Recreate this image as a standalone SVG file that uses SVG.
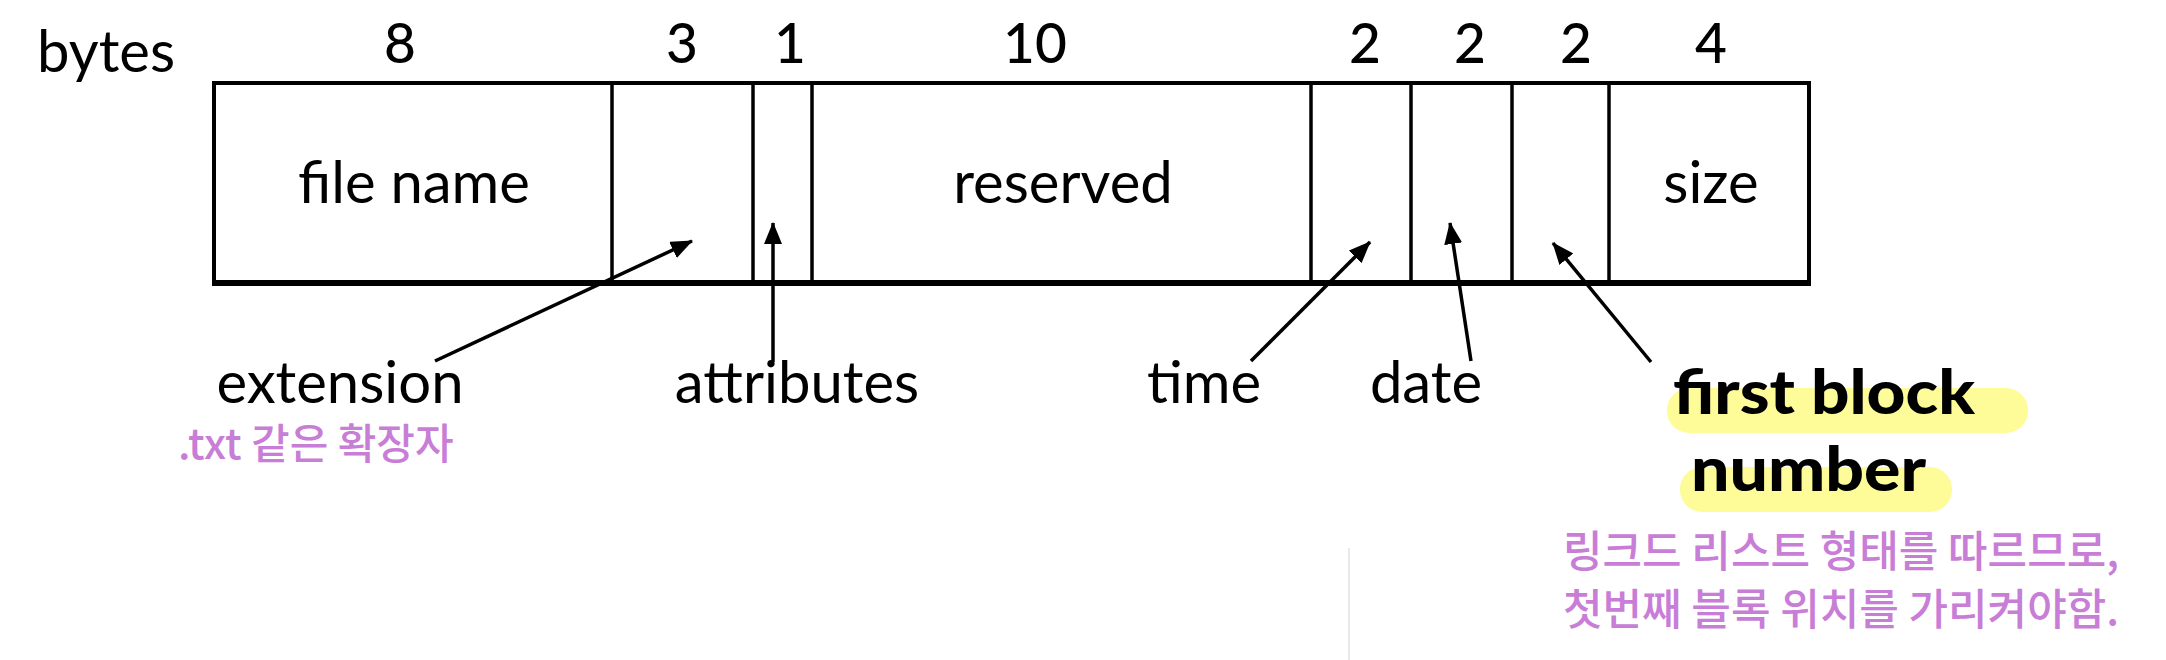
<svg xmlns="http://www.w3.org/2000/svg" width="2166" height="660" viewBox="0 0 2166 660">
<style>
.t{font-family:Lato,"Liberation Sans","Noto Sans CJK KR",sans-serif;fill:#000}
.n{font-size:55px;text-anchor:middle;font-weight:500}
.lbl{font-size:58px}
.c{text-anchor:middle}
.b{font-weight:900;font-size:60px}
.k{font-family:"Noto Sans CJK KR",sans-serif;fill:#c87ed6;font-weight:500}
.box{fill:#fff;stroke:#000;stroke-width:4}
.div{stroke:#000;stroke-width:3.5}
.con{stroke:#000;stroke-width:3.5;fill:none;marker-end:url(#ah)}
.hl{fill:#fefc98}
</style>
<defs>
<marker id="ah" viewBox="0 0 22 18" refX="21" refY="9" markerUnits="userSpaceOnUse" markerWidth="22" markerHeight="18" orient="auto">
<path d="M0,0 L22,9 L0,18 z" fill="#000"/>
</marker>
</defs>
<text class="t lbl" x="37" y="72">bytes</text>
<g id="sizes">
<text class="t n" x="400" y="63">8</text>
<text class="t n" x="682" y="63">3</text>
<text class="t n" x="790" y="63">1</text>
<text class="t n" x="1035" y="63">10</text>
<text class="t n" x="1365" y="63">2</text>
<text class="t n" x="1470" y="63">2</text>
<text class="t n" x="1576" y="63">2</text>
<text class="t n" x="1711" y="63">4</text>
</g>
<g id="record">
<rect class="box" x="214" y="83" width="1595" height="200"/>
<line x1="212" y1="283" x2="1811" y2="283" stroke="#000" stroke-width="6"/>
</g>
<g id="field-filename"><text class="t lbl c" x="414" y="203">file name</text></g>
<g id="field-extension"><line class="div" x1="612" y1="83" x2="612" y2="283"/></g>
<g id="field-attributes"><line class="div" x1="753" y1="83" x2="753" y2="283"/><line class="div" x1="812" y1="83" x2="812" y2="283"/></g>
<g id="field-reserved"><text class="t lbl c" x="1063" y="203">reserved</text></g>
<g id="field-time"><line class="div" x1="1311" y1="83" x2="1311" y2="283"/></g>
<g id="field-date"><line class="div" x1="1411" y1="83" x2="1411" y2="283"/></g>
<g id="field-firstblock"><line class="div" x1="1512" y1="83" x2="1512" y2="283"/></g>
<g id="field-size"><line class="div" x1="1609" y1="83" x2="1609" y2="283"/><text class="t lbl c" x="1711" y="203">size</text></g>
<g id="connectors">
<line class="con" x1="435" y1="361" x2="692" y2="241"/>
<line class="con" x1="773" y1="362" x2="773" y2="223"/>
<line class="con" x1="1251" y1="361" x2="1370" y2="242"/>
<line class="con" x1="1471" y1="361" x2="1450" y2="223"/>
<line class="con" x1="1651" y1="362" x2="1553" y2="243"/>
</g>
<g id="label-extension">
<text class="t lbl c" x="340" y="403">extension</text>
<text class="k" x="178" y="459" font-size="42">.txt 같은 확장자</text>
</g>
<g id="label-attributes"><text class="t lbl c" x="797" y="403">attributes</text></g>
<g id="label-time"><text class="t lbl c" x="1204" y="403">time</text></g>
<g id="label-date"><text class="t lbl c" x="1426" y="403">date</text></g>
<g id="label-firstblock">
<rect class="hl" x="1667" y="388" width="361" height="45" rx="22"/>
<rect class="hl" x="1680" y="467" width="272" height="45" rx="22"/>
<text class="t b" x="1673" y="414" textLength="302" lengthAdjust="spacingAndGlyphs">first block</text>
<text class="t b" x="1691" y="491" textLength="235" lengthAdjust="spacingAndGlyphs">number</text>
<text class="k" x="1563" y="567" font-size="43">링크드 리스트 형태를 따르므로,</text>
<text class="k" x="1563" y="625" font-size="43">첫번째 블록 위치를 가리켜야함.</text>
</g>
<line x1="1349" y1="548" x2="1349" y2="660" stroke="#e0e0e0" stroke-width="1.5"/>
</svg>
